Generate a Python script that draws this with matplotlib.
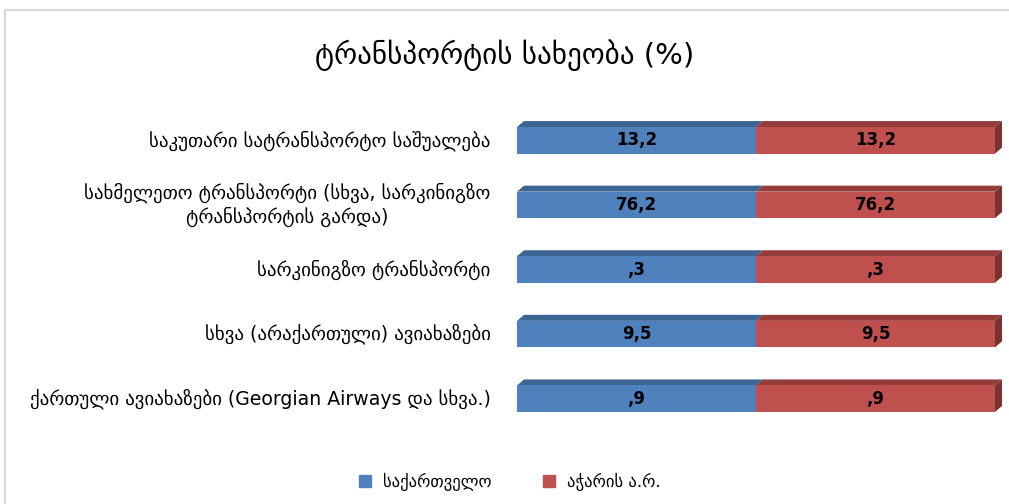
import matplotlib.pyplot as plt
from matplotlib.patches import Polygon
from matplotlib.lines import Line2D

# --- Data ---
categories = [
    "საკუთარი სატრანსპორტო საშუალება",
    "სახმელეთო ტრანსპორტი (სხვა, სარკინიგზო\nტრანსპორტის გარდა)",
    "სარკინიგზო ტრანსპორტი",
    "სხვა (არაქართული) ავიახაზები",
    "ქართული ავიახაზები (Georgian Airways და სხვა.)",
]
georgia = [13.2, 76.2, 0.3, 9.5, 0.9]
adjara = [13.2, 76.2, 0.3, 9.5, 0.9]
series_names = ["საქართველო", "აჭარის ა.რ."]
title = "ტრანსპორტის სახეობა (%)"

front = ["#4F81BD", "#C0504D"]
top = ["#3C6594", "#933C3A"]
side = ["#2F5078", "#7A3130"]

plt.rcParams["font.family"] = ["DejaVu Sans"]


def fmt(v):
    s = f"{v:.1f}".replace(".", ",")
    return s[1:] if s.startswith("0") else s


fig = plt.figure(figsize=(10.09, 5.04), dpi=100)
ax = fig.add_axes([517 / 1009, 1 - 431 / 504, (995 - 517) / 1009, 323 / 504])
ax.set_xlim(0, 100)
ax.set_ylim(4.5, -0.5)
ax.axis("off")

h = 0.41
dx = 7 / 478 * 100
dy = 6 / 64.6

for i in range(len(categories)):
    total = georgia[i] + adjara[i]
    shares = [georgia[i] / total * 100, adjara[i] / total * 100]
    vals = [georgia[i], adjara[i]]
    left = 0
    for k in range(2):
        w = shares[k]
        ax.barh(i, w, left=left, height=h, color=front[k], edgecolor="none", zorder=3)
        yt = i - h / 2
        ax.add_patch(Polygon([(left, yt), (left + dx, yt - dy), (left + w + dx, yt - dy), (left + w, yt)],
                             closed=True, facecolor=top[k], edgecolor="none", zorder=2, clip_on=False))
        ax.text(left + w / 2, i, fmt(vals[k]), ha="center", va="center",
                fontsize=12, fontweight="bold", color="black", zorder=4)
        left += w
    yt = i - h / 2
    ax.add_patch(Polygon([(left, yt), (left + dx, yt - dy), (left + dx, i + h / 2 - dy), (left, i + h / 2)],
                         closed=True, facecolor=side[1], edgecolor="none", zorder=2, clip_on=False))
    ax.text(-5.5, i, categories[i], ha="right", va="center", fontsize=13.6,
            multialignment="center", linespacing=1.2, clip_on=False)

fig.text(0.5, 1 - 55 / 504, title, ha="center", va="center", fontsize=21)

handles = [Line2D([], [], marker="s", linestyle="none", markersize=8, color=c) for c in front]
fig.legend(handles, series_names, loc="center", bbox_to_anchor=(0.5, 1 - 482 / 504), ncol=2,
           frameon=False, fontsize=12, handletextpad=0.1, columnspacing=2.4)

# light frame
fig.add_artist(Line2D([5 / 1009, 5 / 1009], [0, 1 - 10 / 504], color="#D9D9D9", lw=1.5))
fig.add_artist(Line2D([5 / 1009, 1], [1 - 10 / 504, 1 - 10 / 504], color="#D9D9D9", lw=1.5))

fig.savefig("out.png", dpi=100, facecolor="white")
